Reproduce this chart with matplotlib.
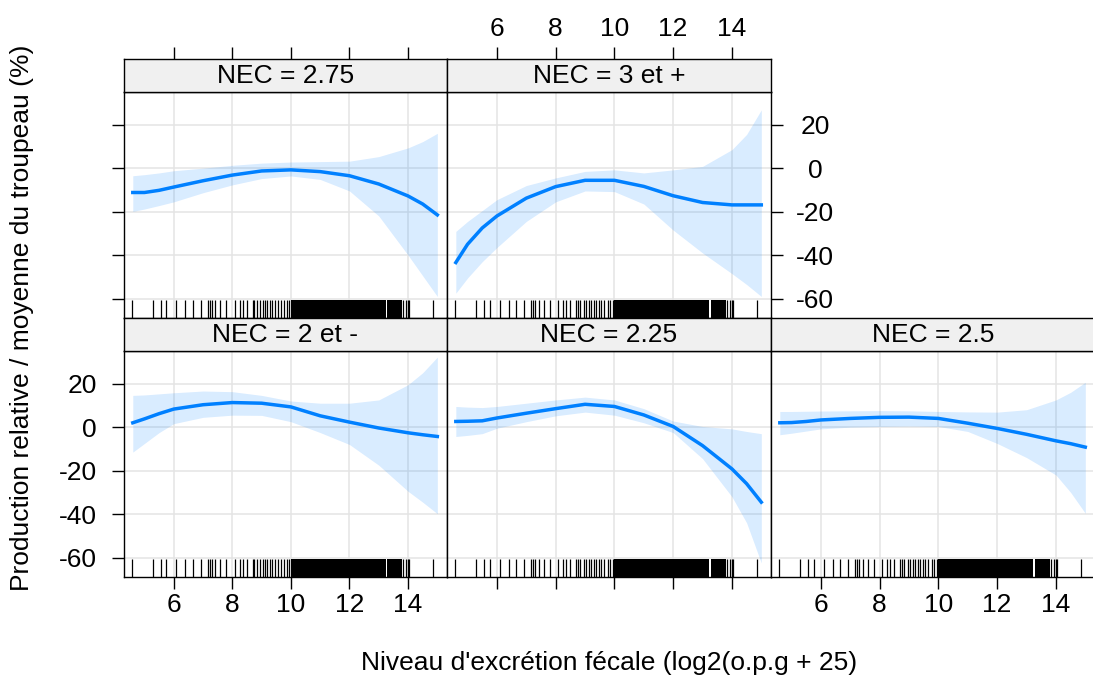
import matplotlib
matplotlib.use("Agg")
import matplotlib.pyplot as plt

plt.rcParams['font.family'] = ['Liberation Sans', 'DejaVu Sans']
plt.rcParams['axes.unicode_minus'] = False

# common x grid of the fitted curves (log2 scale)
x_fit = [4.6, 5.0, 5.5, 6, 7, 8, 9, 10, 11, 12, 13, 14, 14.5, 15]

fit_275 = [-11.2, -11.2, -10.2, -8.7, -5.8, -3.2, -1.3, -0.8, -1.6, -3.5, -7.3, -12.8, -16.5, -21.5]
up_275 = [-3.5, -3.0, -2.2, -1.2, 0.0, 1.3, 2.3, 2.8, 3.0, 3.2, 5.3, 9.3, 12.2, 16.0]
lo_275 = [-19.9, -18.8, -17.2, -15.5, -11.3, -7.7, -4.8, -3.6, -5.2, -10.5, -22.0, -40.0, -49.5, -59.0]

fit_3 = [-43.4, -35.0, -27.5, -22.0, -13.8, -8.5, -5.6, -5.6, -8.4, -12.7, -15.8, -16.9, -16.9, -16.9]
up_3 = [-29.1, -24.5, -19.5, -14.5, -8.0, -4.5, -1.5, -0.8, -2.2, -0.8, 0.8, 8.5, 15.5, 26.8]
lo_3 = [-57.5, -50.5, -43.0, -36.5, -24.5, -15.5, -10.5, -10.8, -16.5, -28.5, -39.0, -48.5, -53.5, -59.0]

fit_2 = [2.0, 3.8, 6.2, 8.3, 10.3, 11.3, 11.0, 9.3, 5.2, 2.3, -0.4, -2.6, -3.5, -4.3]
up_2 = [14.6, 14.8, 15.3, 15.8, 16.6, 16.3, 14.6, 12.0, 11.0, 11.0, 12.5, 19.5, 25.0, 32.2]
lo_2 = [-11.5, -7.5, -2.5, 1.6, 4.5, 5.5, 5.4, 2.5, -2.5, -8.0, -17.5, -29.5, -34.5, -39.8]

fit_225 = [2.6, 2.7, 2.9, 4.2, 6.4, 8.5, 10.5, 9.5, 5.6, 0.3, -8.5, -19.2, -26.0, -34.5]
up_225 = [9.5, 9.2, 9.0, 9.5, 11.0, 12.5, 13.8, 12.5, 8.5, 2.8, 0.3, -0.8, -2.0, -3.0]
lo_225 = [-4.3, -3.8, -3.0, -0.5, 2.5, 5.2, 6.9, 5.5, 2.0, -2.5, -14.5, -32.0, -44.0, -62.5]

fit_25 = [2.0, 2.1, 2.6, 3.3, 4.0, 4.5, 4.6, 4.0, 1.8, -0.6, -3.3, -6.3, -7.6, -9.2]
up_25 = [7.2, 7.2, 7.3, 7.4, 7.5, 7.6, 7.5, 7.2, 7.0, 6.9, 8.0, 12.5, 16.0, 20.6]
lo_25 = [-3.5, -2.8, -1.8, -0.8, 0.0, 0.3, 0.5, 0.3, -2.0, -7.5, -14.0, -22.0, -30.0, -39.6]

# rug: single observed values and dense stretches
rug_ticks = [4.58, 5.30, 5.57, 5.75, 6.09, 6.40, 6.65, 6.93, 7.16, 7.23, 7.31, 7.42,
             7.59, 7.80, 8.08, 8.25, 8.36, 8.50, 8.69, 8.75, 8.84, 8.95, 9.04, 9.12,
             9.20, 9.29, 9.37, 9.46, 9.55, 9.65, 9.77, 9.86, 9.94,
             13.83, 13.92, 14.00, 14.03, 14.85]
rug_blocks = [(10.0, 13.23), (13.28, 13.79)]

xticks = [6, 8, 10, 12, 14]
yticks = [20, 0, -20, -40, -60]

W, H = 1093, 681
fig = plt.figure(figsize=(W / 100, H / 100), dpi=100)

def rect(l, t, r, b):
    return [l / W, 1 - b / H, (r - l) / W, (b - t) / H]

cols = [(124, 447), (447, 771), (771, 1095)]
rows = [(59, 92, 318), (318, 351, 577)]  # strip top, panel top, panel bottom

panels = [
    ("NEC = 2.75", 0, 0, fit_275, lo_275, up_275),
    ("NEC = 3 et +", 0, 1, fit_3, lo_3, up_3),
    ("NEC = 2 et -", 1, 0, fit_2, lo_2, up_2),
    ("NEC = 2.25", 1, 1, fit_225, lo_225, up_225),
    ("NEC = 2.5", 1, 2, fit_25, lo_25, up_25),
]

FS = 19
TL = 8.6
for title, r, c, fit, lo, up in panels:
    l, rr = cols[c]
    st, pt, pb = rows[r]
    ax = fig.add_axes(rect(l, pt, rr, pb))
    ax.set_xlim(4.30, 15.33)
    ax.set_ylim(-68.9, 35)
    ax.set_xticks(xticks)
    ax.set_yticks(yticks)
    ax.grid(True, color='#e4e4e4', lw=1.1)
    ax.set_axisbelow(True)
    ax.fill_between(x_fit, lo, up, color='#0080ff', alpha=0.15, lw=0)
    ax.plot(x_fit, fit, color='#0080ff', lw=2.5)
    ax.vlines(rug_ticks, 0, 0.08, color='black', lw=0.9, transform=ax.get_xaxis_transform())
    for a, b in rug_blocks:
        ax.axvspan(a, b, ymin=0, ymax=0.08, color='black', lw=0)
    for s in ax.spines.values():
        s.set_linewidth(1.0)
    ax.tick_params(axis='both', which='both', direction='out', length=TL, width=1.0,
                   labelsize=FS, bottom=False, top=False, left=False, right=False,
                   labelbottom=False, labeltop=False, labelleft=False, labelright=False)

    # strip
    sx = fig.add_axes(rect(l, st, rr, pt))
    sx.set_facecolor('#f0f0f0')
    sx.set_xlim(4.30, 15.33)
    sx.set_yticks([])
    sx.set_xticks(xticks)
    for s in sx.spines.values():
        s.set_linewidth(1.0)
    sx.tick_params(axis='x', direction='out', length=TL, width=1.0, labelsize=FS,
                   bottom=False, labelbottom=False, top=False, labeltop=False, pad=4.5)
    sx.text(0.5, 0.47, title, transform=sx.transAxes, ha='center', va='center', fontsize=FS)

    if r == 0:
        sx.tick_params(axis='x', top=True, labeltop=(c == 1))
        if c == 0:
            ax.tick_params(axis='y', left=True)
        else:
            ax.tick_params(axis='y', right=True, labelright=True, pad=23)
            for t in ax.yaxis.get_major_ticks():
                t.label2.set_horizontalalignment('center')
    else:
        ax.tick_params(axis='x', bottom=True, labelbottom=(c != 1), pad=3)
        if c == 0:
            ax.tick_params(axis='y', left=True, labelleft=True, pad=11)

fig.text(22 / W, 1 - 318 / H, "Production relative / moyenne du troupeau (%)",
         rotation=90, ha='center', va='center', fontsize=FS)
fig.text(609 / W, 1 - 663 / H, "Niveau d'excrétion fécale (log2(o.p.g + 25)",
         ha='center', va='center', fontsize=FS)

fig.savefig("out.png", dpi=100)
